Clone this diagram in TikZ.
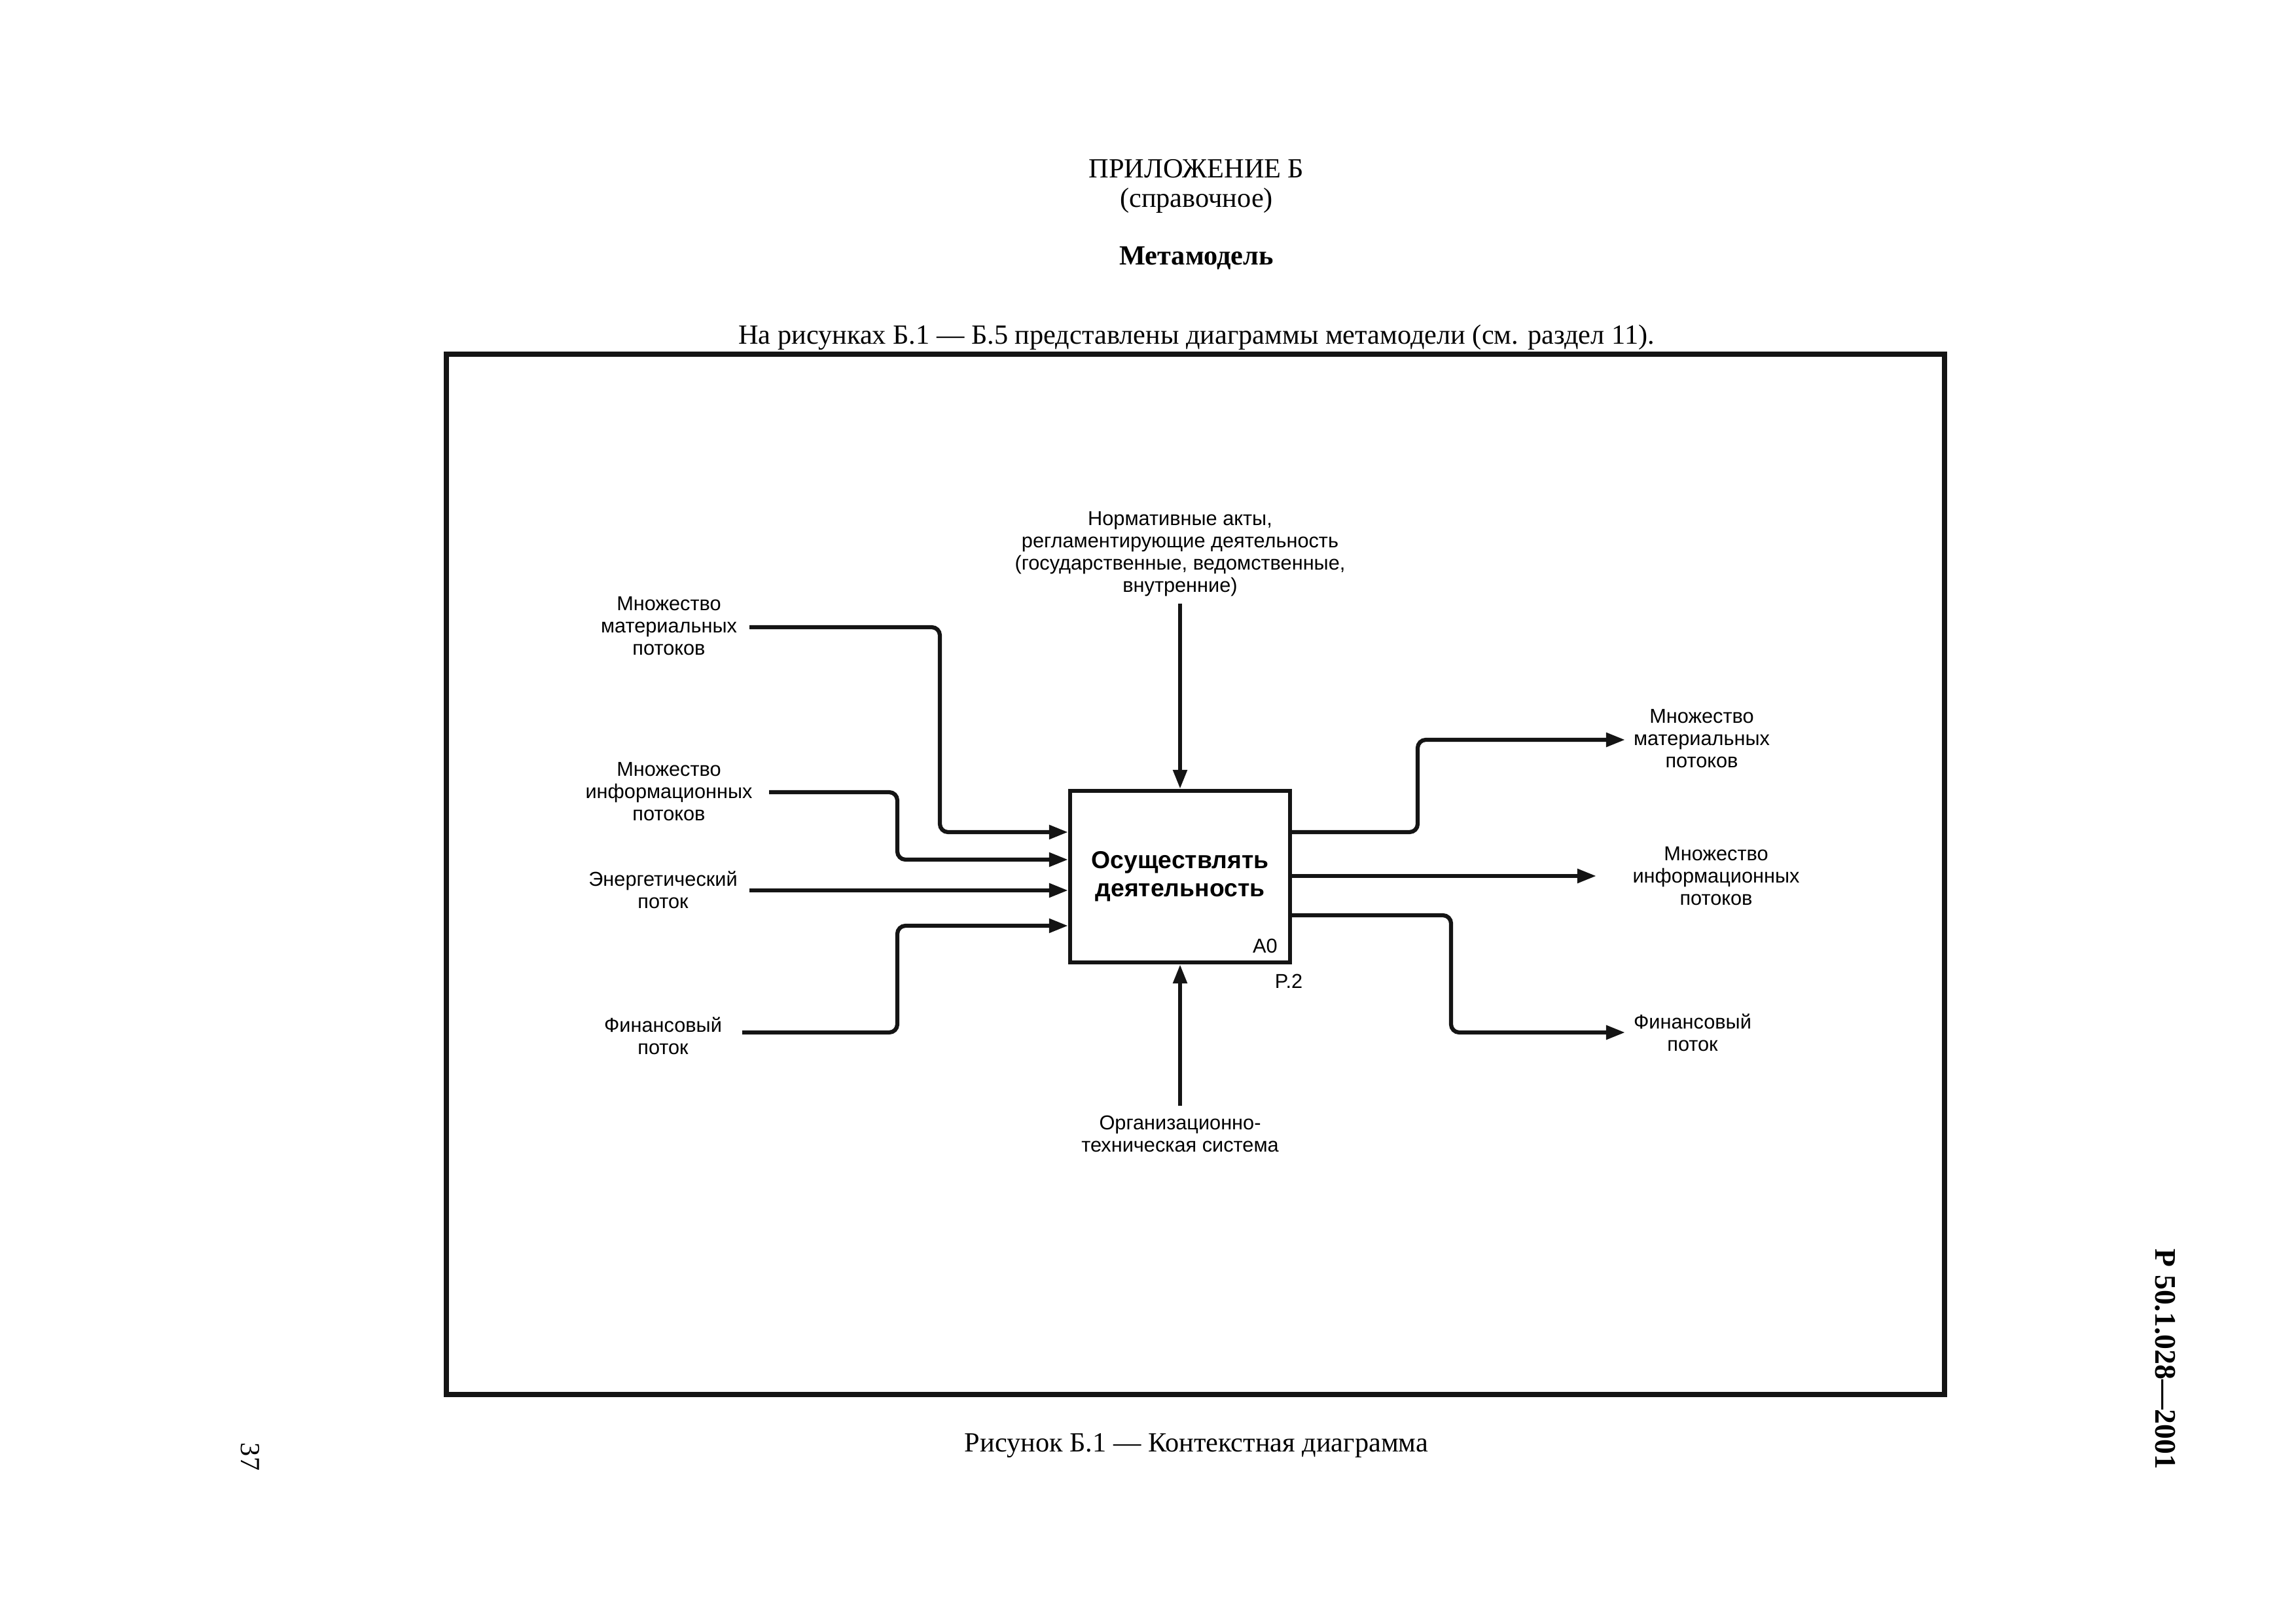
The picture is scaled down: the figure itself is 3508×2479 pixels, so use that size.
\documentclass[tikz,border=0pt]{standalone}
\usepackage{fontspec}
\setmainfont{Liberation Serif}
\newfontfamily\idefsans{Liberation Sans}
\usetikzlibrary{arrows.meta}

\begin{document}
\begin{tikzpicture}
% IDEF0 context diagram, page coordinates in pixels (300 dpi, A4 landscape)
\def\pxsz{0.0846667mm}
\providecommand{\idefLineColor}{black!92}
\providecommand{\idefFlowWidth}{1.5pt}
\providecommand{\idefFrameWidth}{2pt}
\providecommand{\idefCornerRadius}{3pt}
\begin{scope}[x=\pxsz, y=-\pxsz, line cap=butt, line join=miter,
  pagetext/.style={inner sep=0pt, font=\fontsize{10.2}{12}\selectfont},
  flowlabel/.style={inner sep=0pt, align=center, font=\idefsans\fontsize{7.4}{8.2}\selectfont},
  flow/.style={draw=\idefLineColor, line width=\idefFlowWidth, rounded corners=\idefCornerRadius,
    -{Triangle[length=7pt,width=5pt]}},
  actbox/.style={draw=\idefLineColor, line width=\idefFlowWidth, align=center,
    minimum width=336*\pxsz, minimum height=262*\pxsz, inner sep=0pt,
    font=\idefsans\bfseries\fontsize{9}{10.4}\selectfont}]
  % Page size
  \useasboundingbox (0,0) rectangle (3508,2479);
  % Page heading and captions
  \node[pagetext] (hdr) at (1828,258) {ПРИЛОЖЕНИЕ Б};
  \node[pagetext] (hdrsub) at (1828,306) {(справочное)};
  \node[pagetext, font=\bfseries\fontsize{10.2}{12}\selectfont] (ttl) at (1828,394) {Метамодель};
  \node[pagetext] (intro) at (1828,515) {На рисунках Б.1 — Б.5 представлены диаграммы метамодели (см. раздел 11).};
  \node[pagetext] (cap) at (1828,2208) {Рисунок Б.1 — Контекстная диаграмма};
  \node[pagetext, rotate=-90, font=\bfseries\fontsize{11}{12}\selectfont] (std) at (3308,2076) {Р 50.1.028—2001};
  \node[pagetext, rotate=-90] (pgno) at (382,2225) {37};
  % Outer frame
  \draw[draw=\idefLineColor, line width=\idefFrameWidth] (682,541) rectangle (2971,2130);
  % Activity box
  \node[actbox] (act) at (1803,1339) {Осуществлять\\деятельность};
  \node[flowlabel] (actnum) at (1933,1445) {A0};
  \node[flowlabel] (actpage) at (1969,1499) {P.2};
  % Inputs
  \node[flowlabel] (inMatL) at (1022,956) {Множество\\материальных\\потоков};
  \node[flowlabel] (inInfL) at (1022,1209) {Множество\\информационных\\потоков};
  \node[flowlabel] (inEnL) at (1013,1359) {Энергетический\\поток};
  \node[flowlabel] (inFinL) at (1013,1582) {Финансовый\\поток};
  \coordinate (inMat) at (1145,958);
  \coordinate (inInf) at (1175,1210);
  \coordinate (inEn) at (1145,1360);
  \coordinate (inFin) at (1134,1577);
  \draw[flow] (inMat) -| (1436,1271) -- (act.west |- 0,1271);
  \draw[flow] (inInf) -| (1371,1313) -- (act.west |- 0,1313);
  \draw[flow] (inEn) -- (act.west |- 0,1360);
  \draw[flow] (inFin) -| (1371,1414) -- (act.west |- 0,1414);
  % Control
  \node[flowlabel] (ctrlL) at (1803,846) {Нормативные акты,\\регламентирующие деятельность\\(государственные, ведомственные,\\внутренние)};
  \coordinate (ctrl) at (1803,922);
  \draw[flow] (ctrl) -- (act.north);
  % Mechanism
  \node[flowlabel] (mechL) at (1803,1732) {Организационно-\\техническая система};
  \coordinate (mech) at (1803,1689);
  \draw[flow] (mech) -- (act.south);
  % Outputs
  \node[flowlabel] (outMatL) at (2600,1128) {Множество\\материальных\\потоков};
  \node[flowlabel] (outInfL) at (2622,1338) {Множество\\информационных\\потоков};
  \node[flowlabel] (outFinL) at (2586,1577) {Финансовый\\поток};
  \coordinate (outMat) at (2483,1130);
  \coordinate (outInf) at (2439,1338);
  \coordinate (outFin) at (2483,1577);
  \draw[flow] (act.east |- 0,1271) -| (2166,1130) -- (outMat);
  \draw[flow] (act.east |- 0,1338) -- (outInf);
  \draw[flow] (act.east |- 0,1398) -| (2217,1577) -- (outFin);
\end{scope}
\end{tikzpicture}
\end{document}
